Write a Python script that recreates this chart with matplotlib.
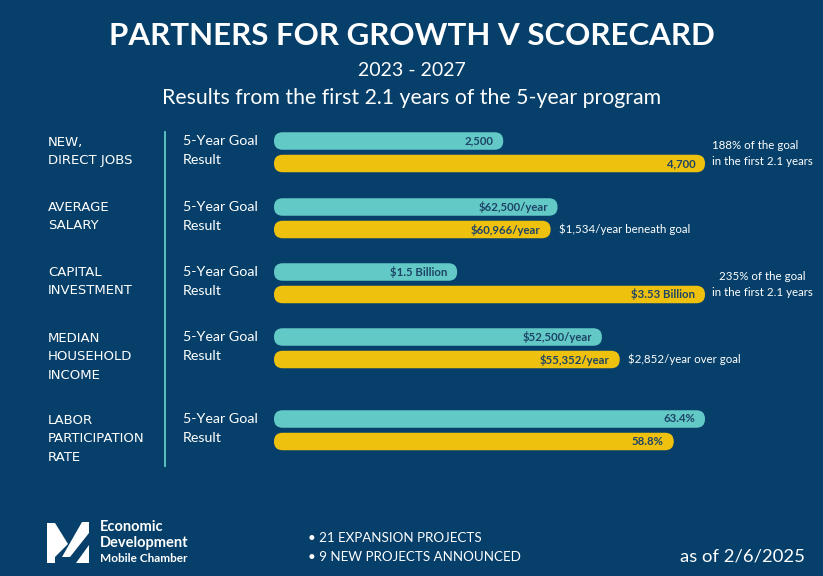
import matplotlib
matplotlib.use("Agg")
import matplotlib.pyplot as plt
from matplotlib.patches import FancyBboxPatch, Polygon

categories = ["NEW,\nDIRECT JOBS", "AVERAGE\nSALARY", "CAPITAL\nINVESTMENT",
              "MEDIAN\nHOUSEHOLD\nINCOME", "LABOR\nPARTICIPATION\nRATE"]
goal = [2500, 62500, 1.5, 52500, 63.4]
result = [4700, 60966, 3.53, 55352, 58.8]
goal_labels = ["2,500", "$62,500/year", "$1.5 Billion", "$52,500/year", "63.4%"]
result_labels = ["4,700", "$60,966/year", "$3.53 Billion", "$55,352/year", "58.8%"]
notes = ["188% of the goal\nin the first 2.1 years", "$1,534/year beneath goal",
         "235% of the goal\nin the first 2.1 years", "$2,852/year over goal", ""]
highlights = ["21 EXPANSION PROJECTS", "9 NEW PROJECTS ANNOUNCED"]

# each row is drawn on its own scale (the original does the same)
scale_max = [4700, 95000, 3.53, 69000, 63.4]

BG = "#063f69"
TEAL = "#62c9c6"
GOLD = "#efc10f"
INK = "#1d4466"
FONT = "Lato"

W, H = 823, 576
fig = plt.figure(figsize=(W / 100, H / 100), dpi=100, facecolor=BG)


def px(x, y):
    return x / W, 1 - y / H


def ftext(x, y, s, **kw):
    kw.setdefault("color", "white")
    kw.setdefault("family", FONT)
    kw.setdefault("va", "center")
    fig.text(*px(x, y), s, **kw)


ftext(W / 2, 36, "PARTNERS FOR GROWTH V SCORECARD", fontsize=22.5, weight="bold", ha="center")
ftext(W / 2, 71, "2023 - 2027", fontsize=14, ha="center")
ftext(W / 2, 98, "Results from the first 2.1 years of the 5-year program", fontsize=15.3, ha="center")

# divider
fig.add_artist(plt.Line2D([165 / W] * 2, [1 - 132 / H, 1 - 466 / H], color=TEAL, lw=1.3))

BAR_X0, BAR_W = 274, 431   # pixel span of the longest bar
STEP = 22.5                # px between goal and result bar centres
BAR_H = 17.5 / STEP
goal_y = [141, 207, 272, 337, 419]
cat_y = [142, 207, 272, 338, 420]

for i, cat in enumerate(categories):
    gy = goal_y[i]
    ax = fig.add_axes([BAR_X0 / W, 1 - (gy + STEP * 1.5) / H, BAR_W / W, 2 * STEP / H])
    ax.set_xlim(0, scale_max[i])
    ax.set_ylim(1.5, -0.5)
    ax.axis("off")
    ax.patch.set_alpha(0)
    ux = scale_max[i] / BAR_W          # data units per px, x
    aspect = (1 / STEP) / ux
    for j, (val, lab, col) in enumerate([(goal[i], goal_labels[i], TEAL),
                                         (result[i], result_labels[i], GOLD)]):
        ax.add_patch(FancyBboxPatch((0, j - BAR_H / 2), val, BAR_H,
                                    boxstyle=f"round,pad=0,rounding_size={8.6 * ux}",
                                    mutation_aspect=aspect, fc=col, ec="none", clip_on=False))
        ax.annotate(lab, (val, j), xytext=(-7, 0), textcoords="offset points",
                    ha="right", va="center", fontsize=8.2, weight="bold", color=INK, family=FONT)
    if notes[i]:
        two = "\n" in notes[i]
        ax.annotate(notes[i], (result[i], 0.55 if two else 1), xytext=(6 if not two else 5, 0),
                    textcoords="offset points", ha="left", va="center", fontsize=8.3,
                    color="white", family=FONT, linespacing=1.55,
                    multialignment="center" if i == 2 else "left", annotation_clip=False)

    ftext(48, cat_y[i] + 9.5 * (cat.count("\n")), cat, fontsize=9.5, ha="left",
          family="DejaVu Sans", linespacing=1.55)
    ftext(183, gy, "5-Year Goal", fontsize=10.3)
    ftext(183, gy + 19, "Result", fontsize=10.3)

# footer: logo mark
fig.add_artist(Polygon([px(47, 523), px(55, 523), px(68, 544), px(55, 557), px(55, 563), px(47, 563)],
                       closed=True, fc="white", ec="none", transform=fig.transFigure))
fig.add_artist(Polygon([px(82, 522), px(89, 522), px(89, 533), px(70, 557), px(62, 557)],
                       closed=True, fc="white", ec="none", transform=fig.transFigure))
fig.add_artist(Polygon([px(89, 545), px(89, 563), px(76, 563)],
                       closed=True, fc="white", ec="none", transform=fig.transFigure))
ftext(100, 527, "Economic", fontsize=10.5, weight="bold")
ftext(100, 543, "Development", fontsize=10.5, weight="bold")
ftext(100, 558, "Mobile Chamber", fontsize=8.5, weight="bold")

for k, h in enumerate(highlights):
    ftext(308, 538 + 19 * k, "\u2022 " + h, fontsize=9.6)
ftext(805, 556, "as of 2/6/2025", fontsize=13.3, ha="right")

fig.savefig("out.png", dpi=100, facecolor=BG)
